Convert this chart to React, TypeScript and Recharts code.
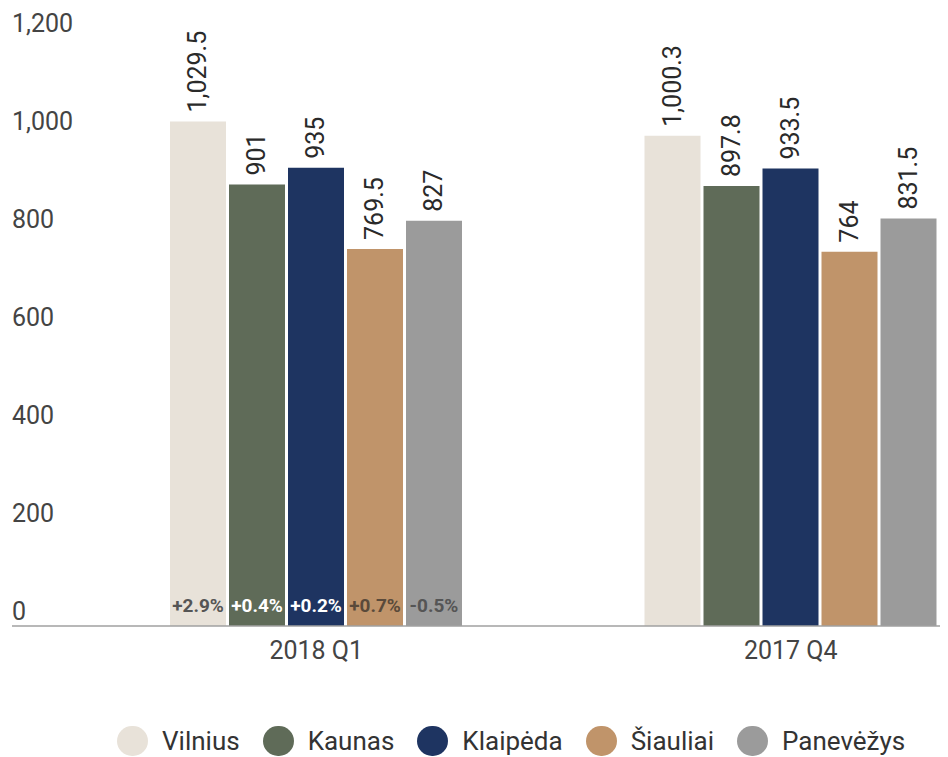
import React from 'react';
import { BarChart, Bar, XAxis, YAxis, Legend, LabelList } from 'recharts';

const categories = ['2018 Q1', '2017 Q4'];
const seriesNames = ['Vilnius', 'Kaunas', 'Klaipėda', 'Šiauliai', 'Panevėžys'];
const vilnius = [1029.5, 1000.3];
const kaunas = [901, 897.8];
const klaipeda = [935, 933.5];
const siauliai = [769.5, 764];
const panevezys = [827, 831.5];
const changes2018 = ['+2.9%', '+0.4%', '+0.2%', '+0.7%', '-0.5%'];
const yTicks = [0, 200, 400, 600, 800, 1000, 1200];

const colors = ['#e8e2d9', '#5f6b58', '#1e3461', '#c0946a', '#9b9b9b'];
const changeColors = ['#555555', '#ffffff', '#ffffff', '#5a4a3a', '#555555'];

const seriesValues = [vilnius, kaunas, klaipeda, siauliai, panevezys];

const data = categories.map((c, i) => {
  const row: Record<string, string | number> = { category: c };
  seriesValues.forEach((vals, k) => {
    row[`s${k}`] = vals[i];
    row[`c${k}`] = i === 0 ? changes2018[k] : '';
  });
  return row;
});

const FONT = 'Roboto, "Noto Sans", sans-serif';

const fmt = (v: number) => v.toLocaleString('en-US', { maximumFractionDigits: 1 });

const ValueLabel = (props: any) => {
  const { x, y, width, value } = props;
  const cx = x + width / 2;
  const ly = y - 9;
  return (
    <text
      x={cx}
      y={ly}
      transform={`rotate(-90, ${cx}, ${ly})`}
      textAnchor="start"
      dominantBaseline="central"
      fontFamily={FONT}
      fontSize={25}
      fill="#2a2a2a"
    >
      {fmt(Number(value))}
    </text>
  );
};

const makePctLabel = (color: string) => (props: any) => {
  const { x, y, width, height, value } = props;
  if (!value) return null;
  return (
    <text
      x={x + width / 2}
      y={y + height - 21}
      textAnchor="middle"
      dominantBaseline="central"
      fontFamily={FONT}
      fontSize={19}
      fontWeight="bold"
      fill={color}
    >
      {value}
    </text>
  );
};

const YTick = (props: any) => {
  const { y, payload } = props;
  return (
    <text x={4} y={y - 15} textAnchor="start" dominantBaseline="central" fontFamily={FONT} fontSize={25} fill="#444444">
      {Number(payload.value).toLocaleString('en-US')}
    </text>
  );
};

const XTick = (props: any) => {
  const { x, payload } = props;
  return (
    <text x={x} y={642} textAnchor="middle" dominantBaseline="central" fontFamily={FONT} fontSize={25} fill="#444444">
      {payload.value}
    </text>
  );
};

const LegendContent = () => (
  <div style={{ display: 'flex', alignItems: 'center', paddingLeft: 109, height: 32, fontFamily: FONT }}>
    {seriesNames.map((n, k) => (
      <div key={n} style={{ display: 'flex', alignItems: 'center', marginRight: 23 }}>
        <div style={{ width: 31, height: 30, borderRadius: 15.5, background: colors[k], marginRight: 14 }} />
        <span style={{ fontSize: 26, color: '#333333', whiteSpace: 'nowrap' }}>{n}</span>
      </div>
    ))}
  </div>
);

export default function App() {
  return (
    <div style={{ width: 940, height: 749, overflow: 'hidden' }}>
      <BarChart
        width={1022}
        height={749}
        data={data}
        margin={{ top: 30, right: 2, bottom: 0, left: 3 }}
        barGap={3}
      >
        <XAxis
          dataKey="category"
          axisLine={{ stroke: '#a0a0a0', strokeWidth: 1.5 }}
          tickLine={false}
          height={99}
          padding={{ left: 67, right: 0 }}
          tick={<XTick />}
          interval={0}
        />
        <YAxis
          width={1}
          domain={[0, 1200]}
          ticks={yTicks}
          axisLine={false}
          tickLine={false}
          tick={<YTick />}
          interval={0}
        />
        <Legend
          verticalAlign="bottom"
          content={<LegendContent />}
          wrapperStyle={{ left: 0, bottom: 0, width: 1022, height: 32 }}
        />
        {seriesNames.map((n, k) => (
          <Bar key={n} dataKey={`s${k}`} name={n} fill={colors[k]} barSize={56} isAnimationActive={false}>
            <LabelList dataKey={`s${k}`} content={<ValueLabel />} />
            <LabelList dataKey={`c${k}`} content={makePctLabel(changeColors[k])} />
          </Bar>
        ))}
      </BarChart>
    </div>
  );
}
